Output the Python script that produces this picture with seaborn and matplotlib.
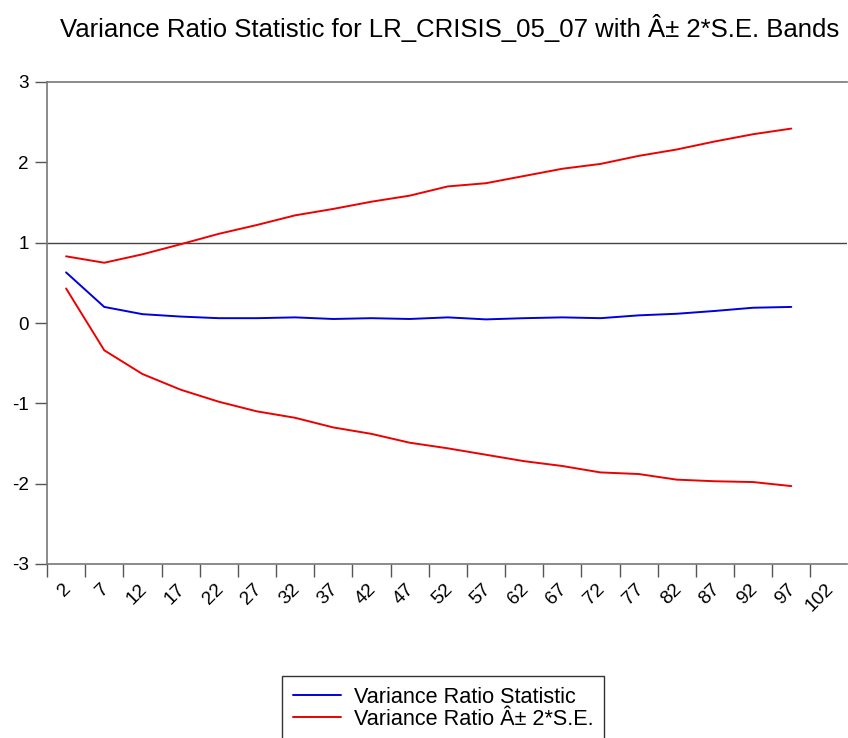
import matplotlib
matplotlib.use("Agg")
import matplotlib.pyplot as plt
import matplotlib.transforms as mtransforms
import seaborn as sns
import pandas as pd
import numpy as np

sns.set_theme(style="white")
plt.rcParams['font.family'] = ['Liberation Sans', 'DejaVu Sans']
plt.rcParams['text.color'] = 'black'
plt.rcParams['xtick.labelcolor'] = 'black'
plt.rcParams['ytick.labelcolor'] = 'black'

# Data
periods = [2, 7, 12, 17, 22, 27, 32, 37, 42, 47, 52, 57, 62, 67, 72, 77, 82, 87, 92, 97]
vr_stat = [0.63, 0.20, 0.11, 0.08, 0.06, 0.06, 0.07, 0.05, 0.06, 0.05,
           0.07, 0.045, 0.06, 0.07, 0.06, 0.095, 0.115, 0.15, 0.19, 0.20]
upper_band = [0.83, 0.75, 0.855, 0.98, 1.11, 1.22, 1.34, 1.42, 1.51, 1.585,
              1.70, 1.74, 1.83, 1.92, 1.98, 2.08, 2.16, 2.26, 2.35, 2.42]
lower_band = [0.43, -0.34, -0.635, -0.83, -0.98, -1.10, -1.18, -1.30, -1.38, -1.49,
              -1.56, -1.64, -1.72, -1.78, -1.86, -1.88, -1.95, -1.97, -1.98, -2.03]
xtick_labels = [2, 7, 12, 17, 22, 27, 32, 37, 42, 47, 52, 57, 62, 67, 72, 77, 82, 87, 92, 97, 102]
ytick_values = [-3, -2, -1, 0, 1, 2, 3]

title = "Variance Ratio Statistic for LR_CRISIS_05_07 with Â± 2*S.E. Bands"
label_stat = "Variance Ratio Statistic"
label_band = "Variance Ratio Â± 2*S.E."

# each observation sits in the middle of its 5-wide slot
xpos = np.array(periods) + 2.5
df = pd.DataFrame({"x": xpos, "stat": vr_stat, "up": upper_band, "lo": lower_band})

W, H = 848, 738
fig = plt.figure(figsize=(W / 100, H / 100), dpi=100)
ax = fig.add_axes([47 / W, 1 - 564 / H, (847 - 47) / W, (564 - 82) / H])

ax.axhline(1, color="#444444", lw=1.0, zorder=1)
sns.lineplot(data=df, x="x", y="stat", ax=ax, color="#0000dd", lw=1.4, label=label_stat)
sns.lineplot(data=df, x="x", y="up", ax=ax, color="#ee0000", lw=1.4, label=label_band)
sns.lineplot(data=df, x="x", y="lo", ax=ax, color="#ee0000", lw=1.4, label="_nolegend_")

ax.set_xlim(2, 106.8)
ax.set_ylim(-3, 3)
ax.set_xlabel("")
ax.set_ylabel("")

for s in ["left", "bottom", "top"]:
    ax.spines[s].set_color("#777777")
    ax.spines[s].set_linewidth(1.2)
ax.spines["right"].set_visible(False)
ax.tick_params(axis="both", direction="out", length=9, width=1.0, color="#555555",
               left=True, bottom=True)
ax.tick_params(axis="y", pad=4)
ax.tick_params(axis="x", pad=3)

ax.set_xticks(xtick_labels)
ax.set_xticklabels([str(v) for v in xtick_labels], rotation=45, fontsize=13.8,
                   ha="right", va="top", rotation_mode="anchor")
ax.set_yticks(ytick_values)
ax.set_yticklabels([str(v) for v in ytick_values], fontsize=13.6)

fig.text(450 / W, 1 - 37.5 / H, title, ha="center", va="baseline", fontsize=18.5)

leg = ax.legend(loc="upper left", bbox_to_anchor=(282 / W, 1 - 676 / H),
                bbox_transform=fig.transFigure, fontsize=15.6, frameon=True,
                fancybox=False, edgecolor="black", borderpad=0.5,
                handlelength=2.2, handletextpad=0.6, labelspacing=0.05,
                borderaxespad=0)
leg.get_frame().set_linewidth(1.0)

# shift rotated x tick labels to the right, as in the reference
shift = mtransforms.ScaledTranslation(15 / 100, 0, fig.dpi_scale_trans)
for tick in ax.xaxis.get_major_ticks():
    tick.label1.set_transform(tick.label1.get_transform() + shift)

fig.savefig("out.png", dpi=100)
